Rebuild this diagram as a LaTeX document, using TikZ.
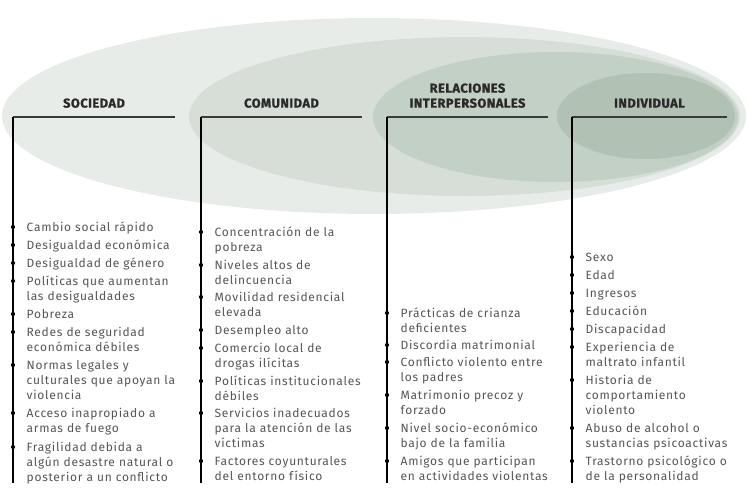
\documentclass[tikz,border=0pt]{standalone}
\usepackage{fontspec}
\setmainfont{Fira Sans}
\newfontfamily\itemfont[LetterSpace=6]{Fira Sans}
\newfontfamily\headfont[LetterSpace=4,BoldFeatures={FakeBold=1.2}]{Fira Sans}
\definecolor{ringA}{HTML}{E8ECE8}
\definecolor{ringB}{HTML}{D6DED7}
\definecolor{ringC}{HTML}{C3D0C6}
\definecolor{ringD}{HTML}{B1C1B3}
\definecolor{headgray}{HTML}{2A2A2A}
\definecolor{itemgray}{HTML}{555555}
\definecolor{linegray}{HTML}{3A3A3A}

\begin{document}
\begin{tikzpicture}[x=1pt,y=-1pt,
  head/.style={anchor=south, inner sep=0, align=center, text=headgray,
    font={\headfont\bfseries\fontsize{12.8}{15}\selectfont}},
  item/.style={anchor=base west, inner sep=0, text width=165pt, align=left, text=itemgray,
    font={\itemfont\fontsize{12}{15.3}\selectfont}},
  hline/.style={draw=linegray, line width=1.1pt},
  vline/.style={draw=black, line width=1.2pt}]
\useasboundingbox (0,0) rectangle (748,490);

% nested circles of the model
\fill[ringA] (374,116) ellipse (372 and 98);
\fill[ringB] (464.5,116.5) ellipse (275.5 and 79.5);
\fill[ringC] (555.5,117) ellipse (182.5 and 65);
\fill[ringD] (646,116) ellipse (89 and 43);

% levels
\node[head] (soc) at (94,108) {SOCIEDAD};
\node[head] (com) at (281.5,108) {COMUNIDAD};
\node[head] (rel) at (467.5,108) {RELACIONES\\INTERPERSONALES};
\node[head] (ind) at (649.5,108) {INDIVIDUAL};

\coordinate (socl) at (13,117);
\coordinate (coml) at (201,117);
\coordinate (rell) at (387,117);
\coordinate (indl) at (572,117);
\draw[hline] (socl) -- (175,117);
\draw[vline] (socl) -- (13,483);
\draw[hline] (coml) -- (362,117);
\draw[vline] (coml) -- (201,483);
\draw[hline] (rell) -- (548,117);
\draw[vline] (rell) -- (387,483);
\draw[hline] (indl) -- (727,117);
\draw[vline] (indl) -- (572,483);

% sociedad
\node[item] (s1) at (26.5,231) {Cambio social rápido};
\node[item] (s2) at (26.5,249) {Desigualdad económica};
\node[item] (s3) at (26.5,267) {Desigualdad de género};
\node[item] (s4) at (26.5,285) {Políticas que aumentan\\las desigualdades};
\node[item] (s5) at (26.5,318) {Pobreza};
\node[item] (s6) at (26.5,336) {Redes de seguridad\\económica débiles};
\node[item] (s7) at (26.5,369) {Normas legales y\\culturales que apoyan la\\violencia};
\node[item] (s8) at (26.5,417) {Acceso inapropiado a\\armas de fuego};
\node[item] (s9) at (26.5,451) {Fragilidad debida a\\algún desastre natural o\\posterior a un conflicto};

% comunidad
\node[item] (c1) at (214.5,236) {Concentración de la\\pobreza};
\node[item] (c2) at (214.5,269) {Niveles altos de\\delincuencia};
\node[item] (c3) at (214.5,301) {Movilidad residencial\\elevada};
\node[item] (c4) at (214.5,334) {Desempleo alto};
\node[item] (c5) at (214.5,352) {Comercio local de\\drogas ilícitas};
\node[item] (c6) at (214.5,385) {Políticas institucionales\\débiles};
\node[item] (c7) at (214.5,417) {Servicios inadecuados\\para la atención de las\\víctimas};
\node[item] (c8) at (214.5,465) {Factores coyunturales\\del entorno físico};

% relaciones interpersonales
\node[item] (r1) at (400.5,317) {Prácticas de crianza\\deficientes};
\node[item] (r2) at (400.5,349) {Discordia matrimonial};
\node[item] (r3) at (400.5,366) {Conflicto violento entre\\los padres};
\node[item] (r4) at (400.5,399) {Matrimonio precoz y\\forzado};
\node[item] (r5) at (400.5,432) {Nivel socio-económico\\bajo de la familia};
\node[item] (r6) at (400.5,465) {Amigos que participan\\en actividades violentas};

% individual
\node[item] (i1) at (585.5,261) {Sexo};
\node[item] (i2) at (585.5,279) {Edad};
\node[item] (i3) at (585.5,297) {Ingresos};
\node[item] (i4) at (585.5,315) {Educación};
\node[item] (i5) at (585.5,333) {Discapacidad};
\node[item] (i6) at (585.5,351) {Experiencia de\\maltrato infantil};
\node[item] (i7) at (585.5,384) {Historia de\\comportamiento\\violento};
\node[item] (i8) at (585.5,432) {Abuso de alcohol o\\sustancias psicoactivas};
\node[item] (i9) at (585.5,465) {Trastorno psicológico o\\de la personalidad};

% bullets on the lines
\fill ([yshift=4pt]s1.base west -| socl) circle (2.1);
\fill ([yshift=4pt]s2.base west -| socl) circle (2.1);
\fill ([yshift=4pt]s3.base west -| socl) circle (2.1);
\fill ([yshift=4pt]s4.base west -| socl) circle (2.1);
\fill ([yshift=4pt]s5.base west -| socl) circle (2.1);
\fill ([yshift=4pt]s6.base west -| socl) circle (2.1);
\fill ([yshift=4pt]s7.base west -| socl) circle (2.1);
\fill ([yshift=4pt]s8.base west -| socl) circle (2.1);
\fill ([yshift=4pt]s9.base west -| socl) circle (2.1);
\fill ([yshift=4pt]c1.base west -| coml) circle (2.1);
\fill ([yshift=4pt]c2.base west -| coml) circle (2.1);
\fill ([yshift=4pt]c3.base west -| coml) circle (2.1);
\fill ([yshift=4pt]c4.base west -| coml) circle (2.1);
\fill ([yshift=4pt]c5.base west -| coml) circle (2.1);
\fill ([yshift=4pt]c6.base west -| coml) circle (2.1);
\fill ([yshift=4pt]c7.base west -| coml) circle (2.1);
\fill ([yshift=4pt]c8.base west -| coml) circle (2.1);
\fill ([yshift=4pt]r1.base west -| rell) circle (2.1);
\fill ([yshift=4pt]r2.base west -| rell) circle (2.1);
\fill ([yshift=4pt]r3.base west -| rell) circle (2.1);
\fill ([yshift=4pt]r4.base west -| rell) circle (2.1);
\fill ([yshift=4pt]r5.base west -| rell) circle (2.1);
\fill ([yshift=4pt]r6.base west -| rell) circle (2.1);
\fill ([yshift=4pt]i1.base west -| indl) circle (2.1);
\fill ([yshift=4pt]i2.base west -| indl) circle (2.1);
\fill ([yshift=4pt]i3.base west -| indl) circle (2.1);
\fill ([yshift=4pt]i4.base west -| indl) circle (2.1);
\fill ([yshift=4pt]i5.base west -| indl) circle (2.1);
\fill ([yshift=4pt]i6.base west -| indl) circle (2.1);
\fill ([yshift=4pt]i7.base west -| indl) circle (2.1);
\fill ([yshift=4pt]i8.base west -| indl) circle (2.1);
\fill ([yshift=4pt]i9.base west -| indl) circle (2.1);
\end{tikzpicture}
\end{document}
